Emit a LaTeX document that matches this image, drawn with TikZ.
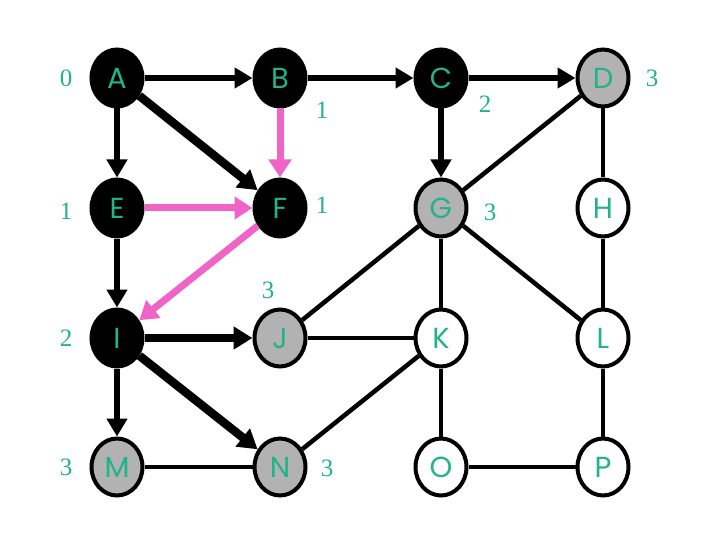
\documentclass[tikz,border=0pt]{standalone}
\usepackage{fontspec}
\setmainfont{Liberation Serif}
\newfontfamily\lblfont{Poppins}
\usetikzlibrary{shapes.geometric,arrows.meta}
\definecolor{teal2}{RGB}{34,178,140}
\definecolor{pink2}{RGB}{240,100,200}
\definecolor{gray2}{RGB}{178,178,178}
\tikzset{
  vtx/.style={ellipse,draw=black,line width=4pt,minimum width=51pt,minimum height=57pt,inner sep=0pt,text=teal2,font=\lblfont\fontsize{29}{29}\selectfont},
  blk/.style={vtx,fill=black},
  gry/.style={vtx,fill=gray2},
  wht/.style={vtx,fill=white},
  dist/.style={text=teal2,font=\fontsize{25}{25}\selectfont,inner sep=0pt},
  arr/.style={line width=6pt,-{Triangle[length=18pt,width=20pt]}},
  tarr/.style={line width=8.5pt,-{Triangle[length=19pt,width=22pt]}},
  parr/.style={draw=pink2,line width=7pt,-{Triangle[length=18pt,width=22pt]}},
  und/.style={line width=4.5pt}
}
\begin{document}
\begin{tikzpicture}[x=1pt,y=-1pt]
\useasboundingbox (0,0) rectangle (720,540);
\node[blk] (A) at (117,78) {A};
\node[blk] (B) at (280,78) {B};
\node[blk] (C) at (441,78) {C};
\node[gry] (D) at (603,78) {D};
\node[blk] (E) at (117,208) {E};
\node[blk] (F) at (280,208) {F};
\node[gry] (G) at (441,208) {G};
\node[wht] (H) at (603,208) {H};
\node[blk] (I) at (117,338) {I};
\node[gry] (J) at (280,338) {J};
\node[wht] (K) at (441,338) {K};
\node[wht] (L) at (603,338) {L};
\node[gry] (M) at (117,467) {M};
\node[gry] (N) at (280,467) {N};
\node[wht] (O) at (441,467) {O};
\node[wht] (P) at (603,467) {P};
% distance labels
\node[dist] (dA) at (66,78) {0};
\node[dist] (dB) at (322,110) {1};
\node[dist] (dC) at (485,104) {2};
\node[dist] (dD) at (652,78) {3};
\node[dist] (dE) at (66,211) {1};
\node[dist] (dF) at (322,205) {1};
\node[dist] (dG) at (490,212) {3};
\node[dist] (dJ) at (268,290) {3};
\node[dist] (dI) at (66,338) {2};
\node[dist] (dM) at (66,467) {3};
\node[dist] (dN) at (327,468) {3};
% undirected edges
\draw[und] (D) -- (G);
\draw[und] (D) -- (H);
\draw[und] (G) -- (J);
\draw[und] (G) -- (K);
\draw[und] (G) -- (L);
\draw[und] (H) -- (L);
\draw[und] (J) -- (K);
\draw[und] (K) -- (N);
\draw[und] (K) -- (O);
\draw[und] (L) -- (P);
\draw[und] (M) -- (N);
\draw[und] (O) -- (P);
% directed black
\draw[arr] (A) -- (B);
\draw[arr] (B) -- (C);
\draw[arr] (C) -- (D);
\draw[arr] (A) -- (E);
\draw[tarr] (A) -- (F);
\draw[arr] (C) -- (G);
\draw[arr] (E) -- (I);
\draw[tarr] (I) -- (J);
\draw[arr] (I) -- (M);
\draw[tarr] (I) -- (N);
% pink
\draw[parr] (B) -- (F);
\draw[parr] (E) -- (F);
\draw[parr] (F) -- (I);
\end{tikzpicture}
\end{document}
